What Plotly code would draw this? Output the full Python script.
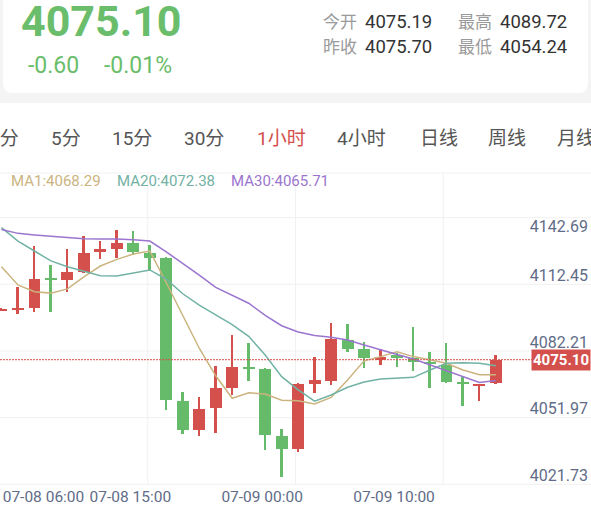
import plotly.graph_objects as go

W, H = 591, 506

# ---------------- data ----------------
times = [
    "07-08 06:00", "07-08 07:00", "07-08 08:00", "07-08 09:00", "07-08 10:00", "07-08 11:00",
    "07-08 12:00", "07-08 13:00", "07-08 15:00", "07-08 16:00", "07-08 17:00", "07-08 18:00",
    "07-08 19:00", "07-08 20:00", "07-08 21:00", "07-08 22:00", "07-09 00:00", "07-09 01:00",
    "07-09 02:00", "07-09 03:00", "07-09 04:00", "07-09 05:00", "07-09 07:00", "07-09 08:00",
    "07-09 10:00", "07-09 11:00", "07-09 12:00", "07-09 13:00", "07-09 14:00", "07-09 15:00",
    "07-09 16:00",
]
opens = [4097.6, 4097.7, 4098.7, 4112.3, 4111.3, 4114.7, 4124.1, 4125.4, 4127.9, 4123.6,
         4121.1, 4056.5, 4043.2, 4053.1, 4062.4, 4071.9, 4070.7, 4040.5, 4034.5, 4063.9,
         4065.6, 4084.0, 4079.8, 4075.19, 4077.2, 4076.0, 4074.1, 4072.7, 4065.1, 4063.4,
         4064.4]
highs = [4098.4, 4108.2, 4126.8, 4118.1, 4125.2, 4131.2, 4128.9, 4133.9, 4133.6, 4127.1,
         4121.6, 4060.6, 4058.3, 4072.4, 4086.3, 4082.8, 4071.4, 4043.5, 4064.4, 4076.2,
         4091.6, 4091.2, 4083.3, 4079.9, 4078.0, 4089.72, 4078.7, 4082.5, 4067.1, 4064.2,
         4077.2]
lows = [4097.4, 4095.8, 4096.9, 4096.6, 4105.9, 4114.4, 4120.9, 4121.4, 4122.6, 4115.8,
        4052.3, 4041.4, 4040.6, 4041.7, 4059.1, 4065.6, 4034.0, 4022.0, 4033.1, 4059.9,
        4063.5, 4078.5, 4071.5, 4072.8, 4071.9, 4070.1, 4062.4, 4064.4, 4054.24, 4056.5,
        4063.9]
closes = [4098.1, 4098.4, 4111.7, 4111.6, 4114.7, 4123.6, 4125.3, 4127.9, 4124.1, 4121.4,
          4056.8, 4043.2, 4052.7, 4062.1, 4071.9, 4070.9, 4040.9, 4034.5, 4063.9, 4065.8,
          4084.4, 4080.0, 4075.7, 4076.3, 4076.3, 4074.1, 4073.1, 4065.1, 4064.4, 4064.0,
          4075.10]
ma1 = [4117.3, 4109.0, 4105.9, 4105.3, 4107.2, 4112.7, 4117.6, 4120.6, 4123.0, 4124.4,
       4110.0, 4095.3, 4080.3, 4067.8, 4057.6, 4060.1, 4059.5, 4056.7, 4056.5, 4055.0,
       4058.0, 4065.9, 4074.6, 4076.5, 4078.7, 4076.5, 4075.0, 4073.5, 4070.4, 4068.29,
       4068.29]
ma20 = [4135.0, 4128.9, 4124.4, 4119.9, 4117.3, 4115.3, 4113.2, 4113.1, 4114.3, 4115.8,
        4111.6, 4105.0, 4099.8, 4095.2, 4091.0, 4085.7, 4077.2, 4067.4, 4061.4, 4056.3,
        4059.1, 4062.6, 4065.0, 4066.3, 4066.8, 4067.1, 4070.4, 4073.5, 4073.7, 4073.5,
        4072.38]
ma30 = [4134.2, 4132.4, 4131.7, 4131.1, 4130.4, 4130.0, 4129.9, 4129.9, 4129.5, 4128.9,
        4124.0, 4118.8, 4113.5, 4107.9, 4104.4, 4100.7, 4095.2, 4090.5, 4087.7, 4086.1,
        4085.3, 4084.0, 4081.8, 4079.5, 4077.5, 4075.4, 4072.7, 4070.1, 4067.4, 4064.8,
        4065.71]
y_tick_values = [4142.69, 4112.45, 4082.21, 4051.97, 4021.73]
x_tick_labels = ["07-08 06:00", "07-08 15:00", "07-09 00:00", "07-09 10:00"]
tabs = ["1分", "5分", "15分", "30分", "1小时", "4小时", "日线", "周线", "月线"]
selected_tab = "1小时"
prev_close = 4075.70
today_open = 4075.19
today_high = 4089.72
today_low = 4054.24
last_price = closes[-1]

# ---------------- style ----------------
RED = "#d4504d"
GREEN = "#66bb6a"
HEAD_GREEN = "#6abd6b"
C_MA1 = "#cbb47f"
C_MA20 = "#72b2a5"
C_MA30 = "#9b75cf"
GRID = "#f1f1f1"
AXIS_TXT = "#5f6c87"
FONT = "Roboto, 'Noto Sans CJK SC', sans-serif"


def px_x(px):
    return px / W


def px_y(py):
    return 1 - py / H


colors = [RED if c >= o else GREEN for o, c in zip(opens, closes)]
body_h = [max(abs(c - o), 0.8) for o, c in zip(opens, closes)]
body_base = [(o + c) / 2 - h / 2 for o, c, h in zip(opens, closes, body_h)]
wick_h = [hi - lo for hi, lo in zip(highs, lows)]

fig = go.Figure()
fig.add_trace(go.Bar(x=times, y=wick_h, base=lows, width=0.12,
                     marker=dict(color=colors, line=dict(width=0)), hoverinfo="skip"))
fig.add_trace(go.Bar(x=times, y=body_h, base=body_base, width=0.72,
                     marker=dict(color=colors, line=dict(width=0)), hoverinfo="skip"))
for arr, col in [(ma1, C_MA1), (ma20, C_MA20), (ma30, C_MA30)]:
    fig.add_trace(go.Scatter(x=times, y=arr, mode="lines",
                             line=dict(color=col, width=1.5), hoverinfo="skip"))
# invisible helper trace so the overlay axes know the categories / range
fig.add_trace(go.Scatter(x=times, y=closes, mode="markers", xaxis="x2", yaxis="y3",
                         marker=dict(opacity=0), hoverinfo="skip"))

y_top_px, y_bot_px = 205, 484.3
y_range = [4018.58, 4145.27]
x_range = [-0.09, 35.77]

x_font = dict(family=FONT, size=15.5, color=AXIS_TXT)
y_font = dict(family=FONT, size=16, color=AXIS_TXT)
common_x = dict(type="category", showgrid=False, zeroline=False, showline=False, ticks="",
                tickfont=x_font, automargin=False, fixedrange=True,
                ticklabeloverflow="allow", ticklabelstandoff=1)
common_y = dict(showgrid=False, zeroline=False, showline=False, ticks="", side="right",
                ticklabelposition="inside", tickfont=y_font, automargin=False,
                fixedrange=True, ticklabeloverflow="allow")

shapes = []
# grey page band and white header card
shapes.append(dict(type="rect", xref="paper", yref="paper", x0=0, x1=1,
                   y0=px_y(103), y1=px_y(0), fillcolor="#f4f4f4", line=dict(width=0),
                   layer="below"))
cx0, cx1, cyb, r = 3, 588, 93, 10
path = (f"M {px_x(cx0)},{px_y(-5)} L {px_x(cx1)},{px_y(-5)} L {px_x(cx1)},{px_y(cyb - r)} "
        f"Q {px_x(cx1)},{px_y(cyb)} {px_x(cx1 - r)},{px_y(cyb)} L {px_x(cx0 + r)},{px_y(cyb)} "
        f"Q {px_x(cx0)},{px_y(cyb)} {px_x(cx0)},{px_y(cyb - r)} Z")
shapes.append(dict(type="path", xref="paper", yref="paper", path=path,
                   fillcolor="white", line=dict(width=0), layer="below"))
# grid lines
for py in [173, 217.7, 284.3, 351, 417.7, 484.3]:
    shapes.append(dict(type="line", xref="paper", yref="paper", x0=0, x1=1,
                       y0=px_y(py), y1=px_y(py), line=dict(color=GRID, width=1),
                       layer="below"))
for k in [1, 2, 3]:
    shapes.append(dict(type="line", xref="paper", yref="paper", x0=k / 4, x1=k / 4,
                       y0=px_y(484.3), y1=px_y(173), line=dict(color=GRID, width=1),
                       layer="below"))
# last price dotted line
shapes.append(dict(type="line", xref="paper", yref="y", x0=0, x1=px_x(532),
                   y0=last_price, y1=last_price,
                   line=dict(color=RED, width=1, dash="2px,1px"), layer="above"))

ann = []
# header
chg = last_price - prev_close
pct = chg / prev_close * 100
ann.append(dict(text=f"{last_price:.2f}", x=px_x(19), y=px_y(21), xanchor="left",
                yanchor="middle", font=dict(family=FONT, size=43, color=HEAD_GREEN,
                                            weight="bold")))
ann.append(dict(text=f"{chg:+.2f}", x=px_x(26), y=px_y(65), xanchor="left",
                yanchor="middle", font=dict(family=FONT, size=23, color=HEAD_GREEN)))
ann.append(dict(text=f"{pct:+.2f}%", x=px_x(102), y=px_y(65), xanchor="left",
                yanchor="middle", font=dict(family=FONT, size=23, color=HEAD_GREEN)))
info = [("今开", today_open, 323, 22), ("最高", today_high, 458, 22),
        ("昨收", prev_close, 323, 47), ("最低", today_low, 458, 47)]
for lab, val, xp, yp in info:
    ann.append(dict(text=lab, x=px_x(xp - 2), y=px_y(yp), xanchor="left", yanchor="middle",
                    font=dict(family=FONT, size=17, color="#9a9a9a")))
    ann.append(dict(text=f"{val:.2f}", x=px_x(xp + 40), y=px_y(yp), xanchor="left",
                    yanchor="middle", font=dict(family=FONT, size=18.5, color="#333333")))
# tabs
tab_starts = [-13, 49, 110, 182, 255, 335, 418, 486, 555]
for t, xs in zip(tabs, tab_starts):
    ann.append(dict(text=t, x=px_x(xs), y=px_y(138), xanchor="left", yanchor="middle",
                    font=dict(family=FONT, size=19,
                              color=RED if t == selected_tab else "#555555")))
# MA legend
for name, arr, col, xs in [("MA1", ma1, C_MA1, 9), ("MA20", ma20, C_MA20, 115),
                           ("MA30", ma30, C_MA30, 229)]:
    ann.append(dict(text=f"{name}:{arr[-1]:.2f}", x=px_x(xs), y=px_y(181), xanchor="left",
                    yanchor="middle", font=dict(family=FONT, size=15, color=col)))
# last price tag
ann.append(dict(text=f"{last_price:.2f}", xref="paper", yref="y", x=1, y=last_price,
                xanchor="right", yanchor="middle", bgcolor=RED, borderpad=1,
                font=dict(family=FONT, size=15, color="white", weight="bold")))
for a in ann:
    a.setdefault("xref", "paper")
    a.setdefault("yref", "paper")
    a["showarrow"] = False

fig.update_layout(
    width=W, height=H,
    margin=dict(l=0, r=0, t=0, b=0),
    paper_bgcolor="white", plot_bgcolor="rgba(0,0,0,0)",
    showlegend=False, barmode="overlay", bargap=0,
    xaxis=dict(domain=[0, 1], range=x_range, tickvals=x_tick_labels[1:],
               ticktext=x_tick_labels[1:], ticklabelshift=-3, anchor="y", **common_x),
    xaxis2=dict(overlaying="x", matches="x", anchor="y", side="bottom",
                tickvals=x_tick_labels[:1], ticktext=x_tick_labels[:1],
                ticklabelshift=42, **common_x),
    yaxis=dict(domain=[px_y(y_bot_px), px_y(y_top_px)], range=y_range, anchor="x",
               tickvals=y_tick_values[1:], ticktext=[f"{v:.2f}" for v in y_tick_values[1:]],
               ticklabelshift=-2, **common_y),
    yaxis3=dict(overlaying="y", matches="y", anchor="x",
                tickvals=y_tick_values[:1], ticktext=[f"{v:.2f}" for v in y_tick_values[:1]],
                ticklabelshift=16, **common_y),
    shapes=shapes, annotations=ann,
    font=dict(family=FONT),
)

fig.write_html("out.html", config={"displayModeBar": False},
               post_script="document.body.style.margin='0px';")
